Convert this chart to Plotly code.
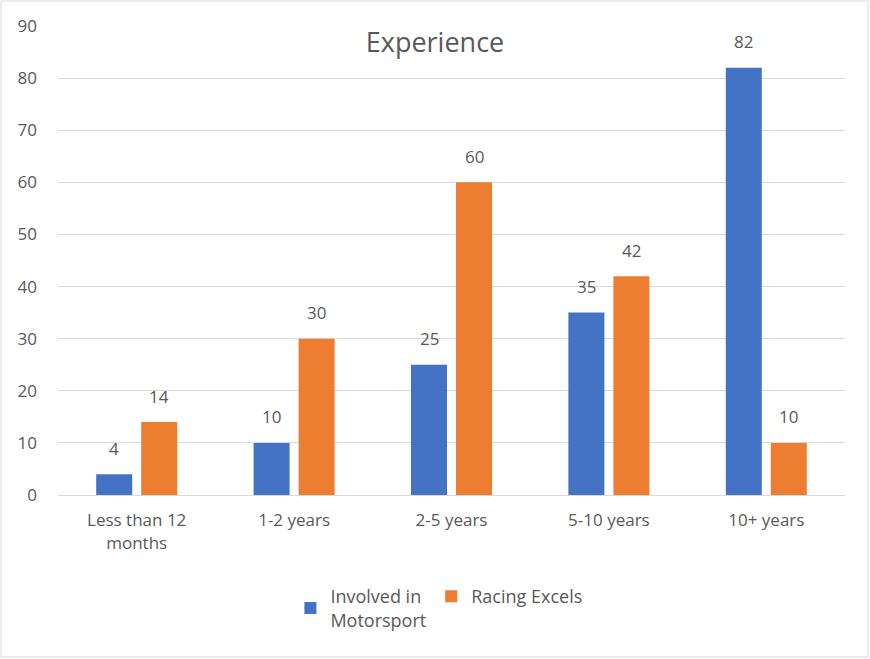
import plotly.graph_objects as go

categories = ["Less than 12<br>months", "1-2 years", "2-5 years", "5-10 years", "10+ years"]
involved = [4, 10, 25, 35, 82]
racing = [14, 30, 60, 42, 10]
series_names = ["Involved in<br>Motorsport", "Racing Excels"]
y_ticks = [0, 10, 20, 30, 40, 50, 60, 70, 80, 90]

FONT = "Open Sans"
GRAY = "#595959"
FS = 17

fig = go.Figure()
fig.add_trace(go.Bar(x=categories, y=involved, name=series_names[0],
                     marker=dict(color="#4472C4", line=dict(width=0))))
fig.add_trace(go.Bar(x=categories, y=racing, name=series_names[1],
                     marker=dict(color="#ED7D31", line=dict(width=0))))

annotations = []
for vals, xs in ((involved, -22.5), (racing, 22.5)):
    for c, v in zip(categories, vals):
        annotations.append(dict(x=c, y=v, xref="x", yref="y", text=str(v),
                                showarrow=False, xshift=xs, yshift=26,
                                yanchor="middle", xanchor="center",
                                font=dict(size=FS, color=GRAY, family=FONT)))

fig.update_layout(
    width=870, height=659,
    margin=dict(l=58, r=25, t=26, b=164),
    paper_bgcolor="white", plot_bgcolor="white",
    font=dict(family=FONT, size=FS, color=GRAY),
    barmode="group", bargap=0.428, bargroupgap=0.2,
    showlegend=True,
    legend=dict(orientation="h", x=0.484, xanchor="center", y=-0.177, yanchor="top",
                font=dict(size=18, color=GRAY, family=FONT),
                itemwidth=30, traceorder="normal"),
    title=dict(text="Experience", x=0.5, xanchor="center", y=0.936, yanchor="middle",
               font=dict(size=27, color=GRAY, family=FONT)),
    xaxis=dict(showgrid=False, showline=True, linecolor="#d9d9d9", linewidth=1,
               ticks="", tickfont=dict(size=FS, color=GRAY), ticklabelstandoff=10),
    yaxis=dict(range=[0, 90], tickvals=y_ticks, showgrid=True, gridcolor="#d9d9d9",
               gridwidth=1, zeroline=False, showline=False, ticks="",
               tickfont=dict(size=FS, color=GRAY), ticklabelstandoff=20),
    annotations=annotations,
    shapes=[dict(type="rect", xref="paper", yref="paper",
                 x0=-57/787, x1=810/787, y0=-162/469, y1=1 + 25/469,
                 line=dict(color="#d9d9d9", width=1), fillcolor="rgba(0,0,0,0)")],
)

fig.write_html("out.html")
